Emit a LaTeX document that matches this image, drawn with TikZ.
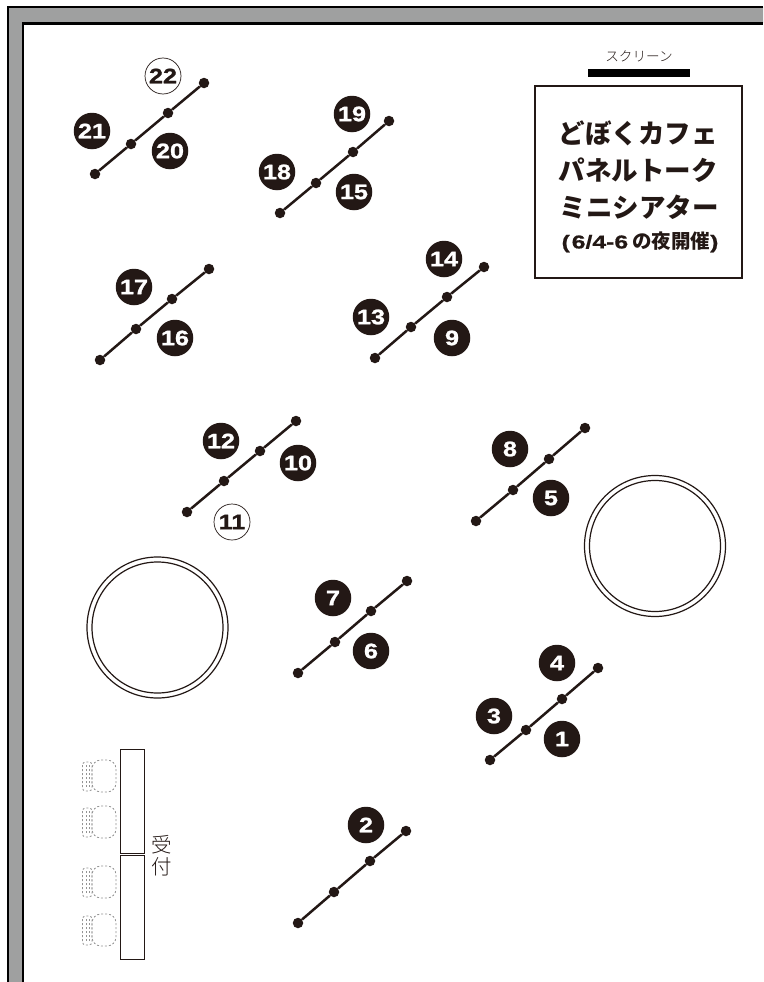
\documentclass[tikz,border=0pt]{standalone}
\usepackage{fontspec}
\setmainfont{Noto Sans CJK JP}
\newfontfamily\numfont{Liberation Sans Bold}[FakeStretch=1.2,FakeBold=1.2]
\newfontfamily\subfont{Liberation Sans Bold}[FakeStretch=1.33,FakeBold=0.8]
\newfontfamily\jpfont{Noto Sans CJK JP Light}
\newfontfamily\jpbold{Noto Sans CJK JP Black}
\definecolor{ink}{HTML}{231815}
\definecolor{wallgray}{HTML}{9FA0A0}
\tikzset{
 seat/.style={circle,fill=ink,draw=none,inner sep=0pt,minimum size=10.5pt},
 benchline/.style={draw=ink,line width=2.5pt},
 numblack/.style={circle,fill=ink,text=white,inner sep=0pt,minimum size=36.5pt,font=\numfont\fontsize{21}{21}\selectfont},
 numwhite/.style={circle,fill=white,draw=ink,line width=0.7pt,text=ink,inner sep=0pt,minimum size=36pt,font=\numfont\fontsize{21}{21}\selectfont},
 roundtable/.style={circle,draw=ink,line width=1.2pt,fill=white,inner sep=0pt},
 desk/.style={draw=ink,line width=1.2pt,fill=white},
 chairpart/.style={draw=black!42,line width=0.85pt,dash pattern=on 2pt off 2pt},
 titleline/.style={font=\jpbold\fontsize{26.5}{26.5}\selectfont,text=ink,inner sep=0pt},
}
\newcommand{\bench}[9]{%
 \node[seat] (#1a) at (#2,#3) {};
 \node[seat] (#1b) at (#4,#5) {};
 \node[seat] (#1c) at (#6,#7) {};
 \node[seat] (#1d) at (#8,#9) {};
 \draw[benchline] (#1a) -- (#1b) -- (#1c) -- (#1d);
}
\newcommand{\chairat}[2]{%
 \begin{scope}[shift={(#1,#2)}]
 \draw[chairpart,rounded corners=9pt] (0,-16) rectangle (24,16);
 \draw[chairpart,rounded corners=3pt] (-9.5,-14) rectangle (0,15);
 \draw[chairpart] (-6,-11) -- (-6,12);
 \draw[chairpart] (-3,-11) -- (-3,12);
 \end{scope}
}
\begin{document}
\begin{tikzpicture}[x=1pt,y=-1pt]
\useasboundingbox (0,0) rectangle (763,982);
\fill[white] (0,0) rectangle (763,982);
% wall
\fill[wallgray] (7,982) -- (7,7) -- (763,7) -- (763,23) -- (23,23) -- (23,982) -- cycle;
\draw[black,line width=2pt] (7.5,982) -- (7.5,7) -- (763,7);
\draw[black,line width=2.6pt] (23,982) -- (23,23.5) -- (763,23.5);
% benches
\bench{k}{95}{174}{131}{144}{168}{113}{204}{83}
\bench{j}{280}{213}{316}{183}{353}{152}{389}{121}
\bench{i}{100}{360}{136}{329}{172}{299}{209}{269}
\bench{h}{375}{358}{411}{327}{447}{297}{484}{267}
\bench{g}{187}{512}{224}{481}{260}{451}{296}{421}
\bench{f}{476}{521}{513}{490}{549}{459}{585}{428}
\bench{e}{298}{673}{335}{642}{371}{611}{407}{581}
\bench{d}{490}{760}{526}{730}{562}{699}{598}{668}
\bench{c}{298}{923}{334}{892}{370}{861}{406}{831}
% numbers
\node[numwhite] (n22) at (163,76) {22};
\node[numblack] (n21) at (92,131) {21};
\node[numblack] (n20) at (170,151) {20};
\node[numblack] (n19) at (352,114) {19};
\node[numblack] (n18) at (277,172) {18};
\node[numblack] (n15) at (354,192) {15};
\node[numblack] (n17) at (134,287) {17};
\node[numblack] (n16) at (175,338) {16};
\node[numblack] (n14) at (444,259) {14};
\node[numblack] (n13) at (371,317) {13};
\node[numblack] (n9) at (452,338) {9};
\node[numblack] (n12) at (221,441) {12};
\node[numblack] (n10) at (298,463) {10};
\node[numwhite] (n11) at (232,522) {11};
\node[numblack] (n8) at (510,449) {8};
\node[numblack] (n5) at (551,498) {5};
\node[numblack] (n7) at (333,598) {7};
\node[numblack] (n6) at (371,651) {6};
\node[numblack] (n4) at (557,663) {4};
\node[numblack] (n3) at (494,716) {3};
\node[numblack] (n1) at (562,739) {1};
\node[numblack] (n2) at (366,825) {2};
% round tables
\node[roundtable,minimum size=141pt] (t1o) at (157.5,627.5) {};
\node[roundtable,minimum size=131pt] (t1i) at (157.5,627.5) {};
\node[roundtable,minimum size=141pt] (t2o) at (655,546) {};
\node[roundtable,minimum size=131pt] (t2i) at (655,546) {};
% screen
\fill[black] (588,69) rectangle (690,77);
\node[font=\jpfont\fontsize{13.6}{13.6}\selectfont,text=ink,inner sep=0pt] (scr) at (639,56.5) {スクリーン};
% title
\draw[ink,line width=2pt,fill=white] (535,86) rectangle (742,278);
\node[titleline] (l1) at (638,133.5) {どぼくカフェ};
\node[titleline] (l2) at (638,170) {パネルトーク};
\node[titleline] (l3) at (639,207) {ミニシアター};
\node[font=\jpbold\fontsize{19.5}{19.5}\selectfont,text=ink,inner sep=0pt] (l4) at (640,242) {{\subfont\fontsize{18.6}{18.6}\selectfont (\hspace{2pt}6/4-6}\hspace{4pt}の夜開催{\subfont\fontsize{18.6}{18.6}\selectfont )}};
% desks
\node[desk,draw,minimum width=24pt,minimum height=104pt,inner sep=0pt,anchor=north west] (d1) at (120,749) {};
\node[desk,draw,minimum width=24pt,minimum height=104pt,inner sep=0pt,anchor=north west] (d2) at (120,855) {};
\node[font=\jpfont\fontsize{20.5}{22}\selectfont,text=ink,inner sep=0pt] (rec1) at (162,845) {受};
\node[font=\jpfont\fontsize{20.5}{22}\selectfont,text=ink,inner sep=0pt] (rec2) at (162,867) {付};
% chairs
\chairat{92}{776}
\chairat{92}{822}
\chairat{92}{882}
\chairat{92}{930}
\end{tikzpicture}
\end{document}
